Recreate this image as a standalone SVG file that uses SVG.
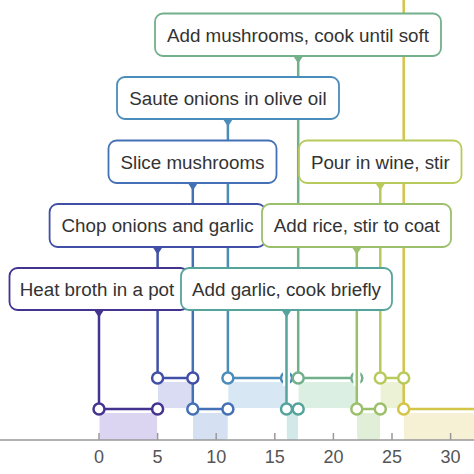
<svg xmlns="http://www.w3.org/2000/svg" width="474" height="474" viewBox="0 0 474 474">
<style>
.box{fill:#fff;stroke-width:1.8}
.lbl{font-family:"Liberation Sans",Arial,sans-serif;font-size:18.8px;fill:#333;text-anchor:middle}
.tick{font-family:"Liberation Sans",Arial,sans-serif;font-size:18px;fill:#555;text-anchor:middle}
.ln{fill:none;stroke-width:2.5}
.dot{fill:#fff;stroke-width:2.5}
</style>
<rect width="474" height="474" fill="#fff"/>
<g id="bands">
<rect x="99.5" y="413" width="57.6" height="27" rx="2" fill="#dcd5f2"/>
<rect x="158" y="382" width="34.5" height="26" rx="2" fill="#d9dcf3"/>
<rect x="193" y="413" width="34.7" height="27" rx="2" fill="#d6e0f3"/>
<rect x="228.3" y="382" width="57.8" height="26" rx="2" fill="#d7e8f4"/>
<rect x="286.8" y="413" width="11.2" height="27" rx="2" fill="#d3e9e9"/>
<rect x="298.6" y="382" width="57.9" height="26" rx="2" fill="#dcefe3"/>
<rect x="357.1" y="413" width="23" height="27" rx="2" fill="#e2efd8"/>
<rect x="380.6" y="382" width="22.8" height="26" rx="2" fill="#ecf2d6"/>
<rect x="404" y="413" width="70" height="27" rx="2" fill="#f6f0d4"/>
</g>
<g id="axis">
<line x1="0" y1="440" x2="474" y2="440" stroke="#999" stroke-width="1.5"/>
<g stroke="#999" stroke-width="1.5">
<line x1="99" y1="433" x2="99" y2="440"/><line x1="157.6" y1="433" x2="157.6" y2="440"/><line x1="216.2" y1="433" x2="216.2" y2="440"/><line x1="274.8" y1="433" x2="274.8" y2="440"/><line x1="333.4" y1="433" x2="333.4" y2="440"/><line x1="392" y1="433" x2="392" y2="440"/><line x1="450.6" y1="433" x2="450.6" y2="440"/>
</g>
<text class="tick" x="99" y="463">0</text><text class="tick" x="157.6" y="463">5</text><text class="tick" x="216.2" y="463">10</text><text class="tick" x="274.8" y="463">15</text><text class="tick" x="333.4" y="463">20</text><text class="tick" x="392" y="463">25</text><text class="tick" x="450.6" y="463">30</text>
</g>
<g id="connectors">
<path class="ln" stroke="#44338f" d="M99 310V409H157.6"/>
<path class="ln" stroke="#4150a6" d="M157.6 247V378H192.8"/>
<path class="ln" stroke="#4470b6" d="M192.8 183V409H227.9"/>
<path class="ln" stroke="#4a8cba" d="M227.9 119V378H286.5"/>
<path class="ln" stroke="#72b08b" d="M298.2 56V378H356.8"/>
<path class="ln" stroke="#b9ca5c" d="M380.3 183V378H403.7"/>
<path class="ln" stroke="#d4c548" d="M403.7 0V409H474"/>
<g id="markers">
<circle class="dot" stroke="#44338f" cx="99" cy="409" r="5.5"/><circle class="dot" stroke="#44338f" cx="157.6" cy="409" r="5.5"/>
<circle class="dot" stroke="#4150a6" cx="157.6" cy="378" r="5.5"/><circle class="dot" stroke="#4150a6" cx="192.8" cy="378" r="5.5"/>
<circle class="dot" stroke="#4470b6" cx="192.8" cy="409" r="5.5"/><circle class="dot" stroke="#4470b6" cx="227.9" cy="409" r="5.5"/>
<circle class="dot" stroke="#4a8cba" cx="227.9" cy="378" r="5.5"/><circle class="dot" stroke="#4a8cba" cx="286.5" cy="378" r="5.5"/>
<circle class="dot" stroke="#72b08b" cx="298.2" cy="378" r="5.5"/><circle class="dot" stroke="#72b08b" cx="356.8" cy="378" r="5.5"/>
<circle class="dot" stroke="#b9ca5c" cx="380.3" cy="378" r="5.5"/><circle class="dot" stroke="#b9ca5c" cx="403.7" cy="378" r="5.5"/>
</g>
<line x1="286.5" y1="370" x2="286.5" y2="386" stroke="#fff" stroke-width="7"/>
<line x1="356.8" y1="370" x2="356.8" y2="386" stroke="#fff" stroke-width="7"/>
<path class="ln" stroke="#55a49c" d="M286.5 310V409H298.2"/>
<path class="ln" stroke="#9cbf6c" d="M356.8 247V409H380.3"/>
<g id="markers2">
<circle class="dot" stroke="#55a49c" cx="286.5" cy="409" r="5.5"/><circle class="dot" stroke="#55a49c" cx="298.2" cy="409" r="5.5"/>
<circle class="dot" stroke="#9cbf6c" cx="356.8" cy="409" r="5.5"/><circle class="dot" stroke="#9cbf6c" cx="380.3" cy="409" r="5.5"/>
<circle class="dot" stroke="#d4c548" cx="403.7" cy="409" r="5.5"/>
</g>
</g>
<g id="heat">
<rect class="box" stroke="#44338f" x="9.5" y="268" width="179" height="42" rx="8"/>
<polygon fill="#44338f" points="94,310 104,310 99,317.5"/>
<text class="lbl" x="97" y="296">Heat broth in a pot</text>
</g>
<g id="chop">
<rect class="box" stroke="#4150a6" x="49.6" y="204" width="216" height="43" rx="8"/>
<polygon fill="#4150a6" points="152.6,247 162.6,247 157.6,254.5"/>
<text class="lbl" x="157.6" y="232">Chop onions and garlic</text>
</g>
<g id="slice">
<rect class="box" stroke="#4470b6" x="108.5" y="140.5" width="168" height="42.5" rx="8"/>
<polygon fill="#4470b6" points="187.8,183 197.8,183 192.8,190.5"/>
<text class="lbl" x="192.5" y="168.5">Slice mushrooms</text>
</g>
<g id="saute">
<rect class="box" stroke="#4a8cba" x="117" y="77" width="222" height="42" rx="8"/>
<polygon fill="#4a8cba" points="222.9,119 232.9,119 227.9,126.5"/>
<text class="lbl" x="228" y="105">Saute onions in olive oil</text>
</g>
<g id="garlic">
<rect class="box" stroke="#55a49c" x="181" y="268" width="211" height="42" rx="8"/>
<polygon fill="#55a49c" points="281.5,310 291.5,310 286.5,317.5"/>
<text class="lbl" x="286.5" y="296">Add garlic, cook briefly</text>
</g>
<g id="mushrooms">
<rect class="box" stroke="#72b08b" x="155" y="13.5" width="286" height="42.5" rx="8"/>
<polygon fill="#72b08b" points="293.2,56 303.2,56 298.2,63.5"/>
<text class="lbl" x="298" y="41.5">Add mushrooms, cook until soft</text>
</g>
<g id="rice">
<rect class="box" stroke="#9cbf6c" x="262" y="204" width="189" height="43" rx="8"/>
<polygon fill="#9cbf6c" points="351.8,247 361.8,247 356.8,254.5"/>
<text class="lbl" x="356.8" y="232">Add rice, stir to coat</text>
</g>
<g id="pour">
<rect class="box" stroke="#b9ca5c" x="299" y="140.5" width="162.5" height="42.5" rx="8"/>
<polygon fill="#b9ca5c" points="375.3,183 385.3,183 380.3,190.5"/>
<text class="lbl" x="380.3" y="168.5">Pour in wine, stir</text>
</g>
</svg>
